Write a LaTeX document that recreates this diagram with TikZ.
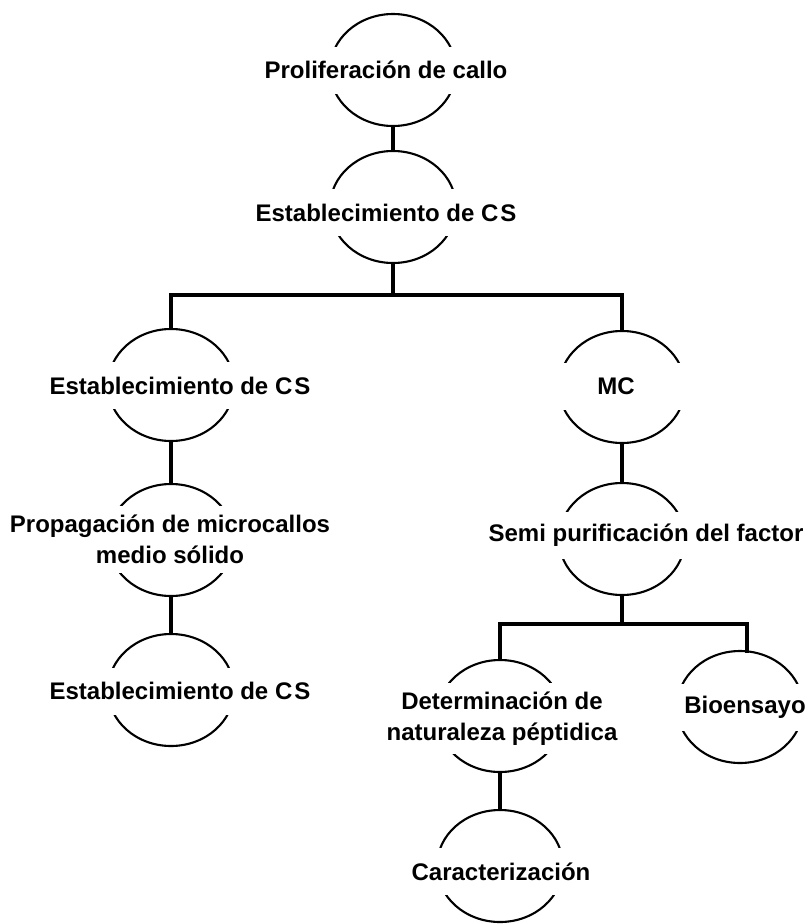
\documentclass[tikz,border=0pt]{standalone}
\usepackage{fontspec}
\setmainfont{Liberation Sans}
\usetikzlibrary{shapes.geometric}
\begin{document}
\begin{tikzpicture}[x=1pt,y=-1pt,
  bub/.style={draw=black,line width=2.1pt,ellipse,minimum width=126pt,minimum height=112pt,inner sep=0pt},
  lbl/.style={fill=white,inner xsep=2pt,inner ysep=9pt,minimum width=150pt,minimum height=47pt,
    align=center,font=\fontsize{24}{31}\selectfont\bfseries},
  conn/.style={line width=4.2pt,line cap=rect}]
\useasboundingbox (0,0) rectangle (810,924);
% bubbles
\node[bub] (A) at (393,70) {};
\node[bub] (B) at (393,207) {};
\node[bub] (C) at (171,385) {};
\node[bub] (D) at (171,540) {};
\node[bub] (E) at (171,690) {};
\node[bub] (F) at (622,387) {};
\node[bub] (G) at (622,539) {};
\node[bub] (H) at (500,716) {};
\node[bub] (I) at (740,707) {};
\node[bub] (J) at (500,866) {};
% labels
\node[lbl] (At) at (386,70) {Proliferación de callo};
\node[lbl] (Bt) at (386,212.5) {Establecimiento de C\kern2pt S};
\node[lbl] (Ct) at (180,385.5) {Establecimiento de C\kern2pt S};
\node[lbl] (Dt) at (170,539.5) {Propagación de microcallos\\medio sólido};
\node[lbl] (Et) at (180,691) {Establecimiento de C\kern2pt S};
\node[lbl] (Ft) at (616,386.5) {MC};
\node[lbl] (Gt) at (646,535.5) {Semi purificación del factor};
\node[lbl] (Ht) at (502,718.5) {Determinación de\\naturaleza péptidica};
\node[lbl] (It) at (745,707.5) {Bioensayo};
\node[lbl] (Jt) at (501,871.5) {Caracterización};
% junctions
\coordinate (j1) at (393,295);
\coordinate (j1l) at (171,295);
\coordinate (j1r) at (622,295);
\coordinate (j2) at (622,624);
\coordinate (j2l) at (500,624);
\coordinate (j2r) at (747,624);
\coordinate (iI) at (747,651);
% connectors
\draw[conn] (A.south) -- (B.north);
\draw[conn] (B.south) -- (j1);
\draw[conn] (j1l) -- (j1r);
\draw[conn] (j1l) -- (C.north);
\draw[conn] (j1r) -- (F.north);
\draw[conn] (C.south) -- (D.north);
\draw[conn] (D.south) -- (E.north);
\draw[conn] (F.south) -- (G.north);
\draw[conn] (G.south) -- (j2);
\draw[conn] (j2l) -- (j2r);
\draw[conn] (j2l) -- (H.north);
\draw[conn] (j2r) -- (iI);
\draw[conn] (H.south) -- (J.north);
\end{tikzpicture}
\end{document}
